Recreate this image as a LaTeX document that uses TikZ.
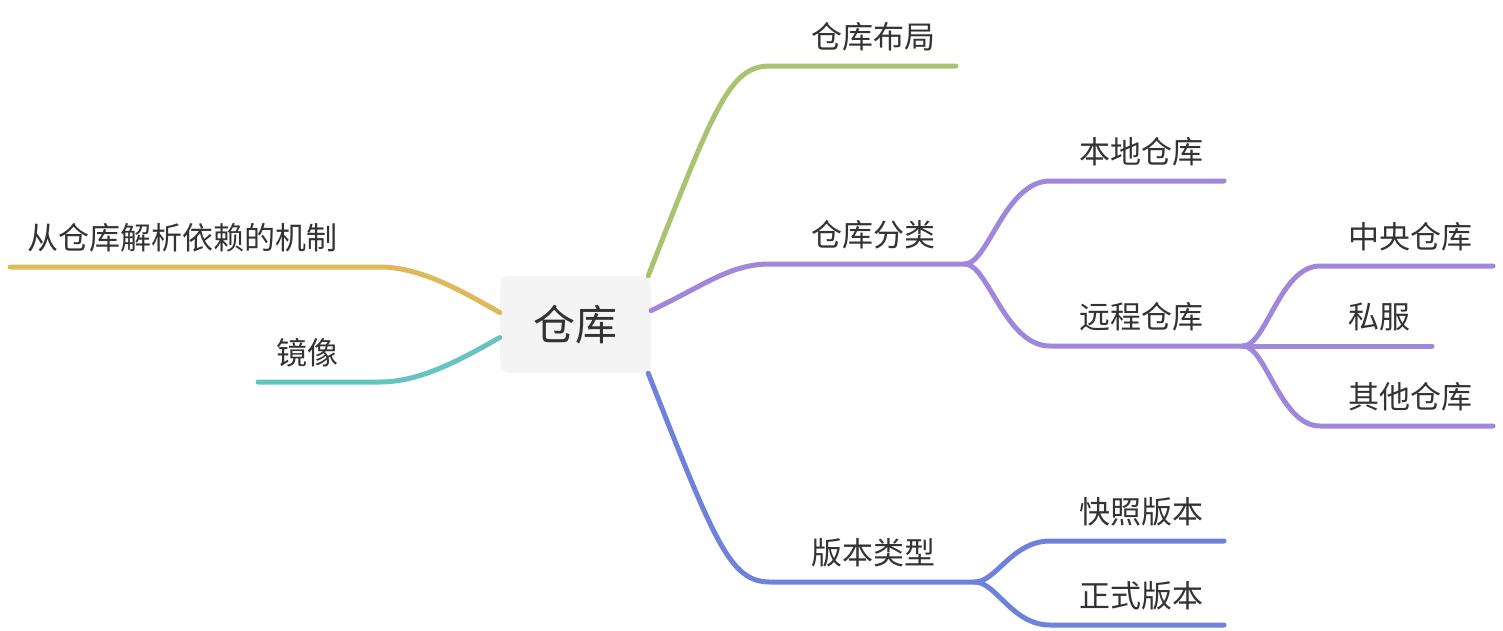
\documentclass[tikz,border=0pt]{standalone}
\usepackage{fontspec}
\setmainfont{Noto Sans CJK SC}
\usetikzlibrary{calc}

\definecolor{txtgray}{HTML}{333333}
\definecolor{rootfill}{HTML}{F4F4F4}
\definecolor{cgreen}{HTML}{A9C470}
\definecolor{cpurple}{HTML}{A087DC}
\definecolor{cblue}{HTML}{6E82DC}
\definecolor{cyellow}{HTML}{DEB85A}
\definecolor{cteal}{HTML}{66C4C0}

\begin{document}
\begin{tikzpicture}[
    x=1pt, y=-1pt,
    root/.style={rectangle, rounded corners=9pt, fill=rootfill, minimum width=151pt,
                 minimum height=97pt, inner sep=0pt, text=txtgray,
                 font=\fontsize{42}{48}\selectfont},
    leaf/.style={anchor=base west, inner sep=0pt, text=txtgray,
                 font=\fontsize{31}{36}\selectfont},
    branch/.style={line width=5pt, line cap=round, draw=#1},
]
  \useasboundingbox (0,0) rectangle (1503,630);

  \node[root] (root) at (575.5,324.5) {仓库};

  % right side
  \node[leaf] (layout) at (811,48) {仓库布局};
  \node[leaf] (kind) at (811,246) {仓库分类};
  \node[leaf] (local) at (1079,163) {本地仓库};
  \node[leaf] (remote) at (1079,328) {远程仓库};
  \node[leaf] (central) at (1348,248) {中央仓库};
  \node[leaf] (private) at (1348,328) {私服};
  \node[leaf] (other) at (1348,408) {其他仓库};
  \node[leaf] (version) at (811,564) {版本类型};
  \node[leaf] (snapshot) at (1079,523) {快照版本};
  \node[leaf] (release) at (1079,607) {正式版本};
  % left side
  \node[leaf] (resolve) at (27,249) {从仓库解析依赖的机制};
  \node[leaf] (mirror) at (276,364) {镜像};

  \coordinate (kindJ) at (965,264);
  \coordinate (remoteJ) at (1243,346);
  \coordinate (versionJ) at (975,582);

  \draw[branch=cgreen] ($(root.north east)+(-3,0)$)
    .. controls (715,105) and (730,66) .. (770,66) -- (956,66);
  \draw[branch=cpurple] ($(root.east)+(0,-14)$)
    .. controls (705,285) and (730,264) .. (770,264) -- (kindJ);
  \draw[branch=cpurple] (kindJ) .. controls (988,264) and (1005,181) .. (1050,181) -- (1224,181);
  \draw[branch=cpurple] (kindJ) .. controls (988,264) and (1005,346) .. (1050,346) -- (remoteJ);
  \draw[branch=cpurple] (remoteJ) .. controls (1266,346) and (1280,266) .. (1320,266) -- (1493,266);
  \draw[branch=cpurple] (remoteJ) -- (1432,346);
  \draw[branch=cpurple] (remoteJ) .. controls (1266,346) and (1280,426) .. (1320,426) -- (1493,426);
  \draw[branch=cblue] ($(root.south east)+(-3,0)$)
    .. controls (715,543) and (730,582) .. (770,582) -- (versionJ);
  \draw[branch=cblue] (versionJ) .. controls (996,582) and (1012,541) .. (1050,541) -- (1224,541);
  \draw[branch=cblue] (versionJ) .. controls (996,582) and (1012,625) .. (1050,625) -- (1224,625);

  \draw[branch=cyellow] ($(root.west)+(0,-12)$)
    .. controls (460,290) and (420,267) .. (380,267) -- (10,267);
  \draw[branch=cteal] ($(root.west)+(0,13)$)
    .. controls (460,360) and (420,382) .. (380,382) -- (258,382);
\end{tikzpicture}
\end{document}
